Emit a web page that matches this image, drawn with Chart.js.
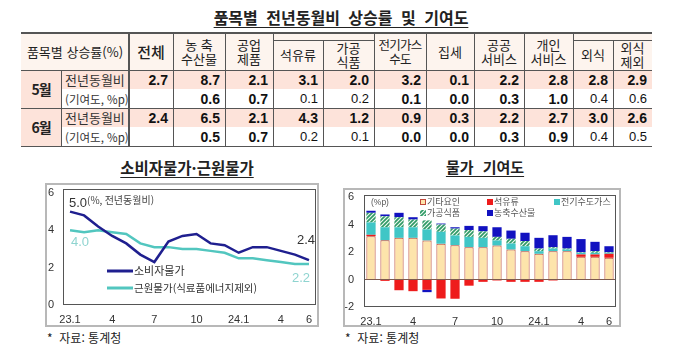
<!DOCTYPE html>
<html lang="ko">
<head>
<meta charset="utf-8">
<script src="https://cdn.jsdelivr.net/npm/chart.js@4.4.1/dist/chart.umd.min.js"></script>
<style>
  body {
    margin: 0;
    width: 682px;
    height: 360px;
    background: #fff;
    position: relative;
    overflow: hidden;
    font-family: 'Noto Sans CJK KR', sans-serif;
    color: #222;
  }

  .abs { position: absolute; }

  .cell {
    position: absolute;
    display: flex;
    align-items: center;
    justify-content: center;
    text-align: center;
    box-sizing: border-box;
    white-space: nowrap;
  }

  .head { font-size: 13px; line-height: 14px; color: #222; }

  .num {
    justify-content: flex-end;
    padding-right: 5px;
    font-family: 'Liberation Sans Narrow', 'Liberation Sans', sans-serif;
    font-size: 14px;
    color: #111;
  }

  .underTitle {
    font-weight: bold;
    text-decoration: underline;
    text-underline-offset: 3px;
    white-space: nowrap;
    transform: translateX(-50%);
  }

  .frame {
    border: 2px solid #b8b8b8;
  }

  .note { font-size: 12px; color: #222; }
</style>
</head>
<body>

<div class="abs underTitle" style="left:341px; top:5px; font-size:16px; word-spacing:4px;">품목별 전년동월비 상승률 및 기여도</div>

<div id="tableBox" class="abs" style="left:0; top:0; width:682px; height:150px;"></div>

<div class="abs underTitle" style="left:187px; top:156px; font-size:15.5px;">소비자물가·근원물가</div>
<div class="abs underTitle" style="left:485px; top:156px; font-size:15px; word-spacing:5px;">물가 기여도</div>

<div class="abs frame" style="left:45px; top:183px; width:270px; height:140px;">
  <canvas id="lineChart" width="270" height="140"></canvas>
</div>

<div class="abs frame" style="left:343px; top:188px; width:274px; height:135px;">
  <canvas id="barChart" width="274" height="135"></canvas>
</div>

<div class="abs note" style="left:47px; top:329px;">*&nbsp; 자료: 통계청</div>
<div class="abs note" style="left:345px; top:329px;">*&nbsp; 자료: 통계청</div>

<script>
// Table data
var itemNames = ['전체', '농 축<br>수산물', '공업<br>제품', '석유류', '가공<br>식품', '전기가스<br>수도', '집세', '공공<br>서비스', '개인<br>서비스', '외식', '외식<br>제외'];

var subItems = [false, false, false, true, true, false, false, false, false, true, true];

var monthNames = ['5월', '6월'];

var mayRate = ['2.7', '8.7', '2.1', '3.1', '2.0', '3.2', '0.1', '2.2', '2.8', '2.8', '2.9'];
var mayContrib = ['', '0.6', '0.7', '0.1', '0.2', '0.1', '0.0', '0.3', '1.0', '0.4', '0.6'];

var junRate = ['2.4', '6.5', '2.1', '4.3', '1.2', '0.9', '0.3', '2.2', '2.7', '3.0', '2.6'];
var junContrib = ['', '0.5', '0.7', '0.2', '0.1', '0.0', '0.0', '0.3', '0.9', '0.4', '0.5'];

// Line chart data (%, 전년동월비)
var monthTicks = ['23.1', '', '', '4', '', '', '7', '', '', '10', '', '', '24.1', '', '', '4', '', '6'];

var cpiValues = [5.0, 4.8, 4.2, 3.7, 3.3, 2.7, 2.3, 3.4, 3.7, 3.8, 3.3, 3.2, 2.8, 3.1, 3.1, 2.9, 2.7, 2.4];
var coreValues = [4.0, 3.9, 4.0, 3.9, 3.8, 3.3, 3.1, 3.1, 3.0, 3.0, 2.9, 2.8, 2.5, 2.5, 2.4, 2.3, 2.2, 2.2];

var lineNames = ['소비자물가', '근원물가(식료품에너지제외)'];

// Bar chart data (%p)
var otherValues = [3.15, 2.85, 3.03, 3.03, 2.84, 2.6, 2.5, 2.35, 2.35, 2.47, 2.18, 2.06, 1.87, 2.06, 2.06, 1.65, 1.65, 1.58];
var oilValues = [0.1, -0.1, -0.78, -0.85, -0.75, -1.38, -1.4, -0.45, -0.17, -0.07, -0.17, -0.17, -0.17, -0.07, 0.0, 0.17, 0.17, 0.29];
var utilValues = [0.9, 0.95, 0.77, 0.77, 0.8, 0.87, 0.7, 0.75, 0.68, 0.37, 0.44, 0.36, 0.19, 0.19, 0.12, 0.12, 0.12, 0.07];
var procValues = [0.7, 0.8, 0.73, 0.56, 0.66, 0.53, 0.5, 0.5, 0.47, 0.26, 0.34, 0.38, 0.19, 0.1, 0.07, 0.04, 0.12, 0.04];
var agriValues = [0.15, 0.13, 0.32, 0.17, -0.17, 0.07, 0.1, 0.3, 0.38, 0.7, 0.6, 0.6, 0.78, 0.87, 0.85, 0.96, 0.68, 0.44];

var barNames = ['기타요인', '석유류', '전기수도가스', '가공식품', '농축수산물'];

// ---------- table ----------
var tableBox = document.getElementById('tableBox');

var colX = [21, 61, 129, 173, 225, 273, 323, 374, 426, 474, 524, 573, 613, 652];

var rowY = [33, 70, 89, 108, 127, 146];

function addBox(left, top, width, height, cls, html, extra)
{
  var d = document.createElement('div');

  d.className = cls;

  d.style.left = left + 'px';
  d.style.top = top + 'px';
  d.style.width = width + 'px';
  d.style.height = height + 'px';

  if (extra)
  {
    for (var k in extra) d.style[k] = extra[k];
  }

  d.innerHTML = html || '';

  tableBox.appendChild(d);

  return d;
}

function buildTable()
{
  // backgrounds
  addBox(colX[0], rowY[0], colX[13] - colX[0], rowY[1] - rowY[0], 'cell', '', { background: '#fdf4ee' });
  addBox(colX[0], rowY[1], colX[1] - colX[0], rowY[5] - rowY[1], 'cell', '', { background: '#fde3da' });
  addBox(colX[1], rowY[1], colX[13] - colX[1], rowY[2] - rowY[1], 'cell', '', { background: '#fde3da' });
  addBox(colX[1], rowY[3], colX[13] - colX[1], rowY[4] - rowY[3], 'cell', '', { background: '#fde3da' });

  // header cells
  addBox(colX[0], rowY[0], colX[2] - colX[0], rowY[1] - rowY[0], 'cell head', '품목별 상승률(%)', { fontSize: '13px' });

  for (var i = 0; i < itemNames.length; i++)
  {
    var cellTop = subItems[i] ? 40 : rowY[0];

    var extra = {};

    if (i === 0) extra = { fontSize: '15px', fontWeight: '500' };

    if (i === 5) extra = { fontSize: '12.5px', letterSpacing: '-0.8px' };

    addBox(colX[i + 2], cellTop, colX[i + 3] - colX[i + 2], rowY[1] - cellTop, 'cell head', itemNames[i], extra);
  }

  // month and row labels
  var rateRows = [mayRate, junRate];
  var contribRows = [mayContrib, junContrib];

  for (var m = 0; m < 2; m++)
  {
    var y0 = rowY[1 + m * 2];
    var y1 = rowY[2 + m * 2];
    var y2 = rowY[3 + m * 2];

    addBox(colX[0], y0, colX[1] - colX[0], y2 - y0, 'cell', monthNames[m], { fontWeight: 'bold', fontSize: '14px', letterSpacing: '-1px' });

    addBox(colX[1], y0, colX[2] - colX[1], y1 - y0, 'cell', '전년동월비', { justifyContent: 'flex-start', paddingLeft: '4px', fontSize: '13px', color: '#333' });

    addBox(colX[1], y1, colX[2] - colX[1], y2 - y1, 'cell', '(기여도, %p)', { justifyContent: 'flex-start', paddingLeft: '4px', fontSize: '11.5px', color: '#333' });

    for (var c = 0; c < itemNames.length; c++)
    {
      var cx = colX[c + 2];
      var cw = colX[c + 3] - cx;

      addBox(cx, y0, cw, y1 - y0, 'cell num', rateRows[m][c], { fontWeight: 'bold' });

      addBox(cx, y1, cw, y2 - y1, 'cell num', contribRows[m][c], { fontWeight: subItems[c] ? 'normal' : 'bold', fontSize: subItems[c] ? '13px' : '14px' });
    }
  }

  // lines
  var lineColor = '#555';

  addBox(colX[0], rowY[0] - 1, colX[13] - colX[0], 2, 'cell', '', { background: lineColor });
  addBox(colX[0], rowY[1], colX[13] - colX[0], 1, 'cell', '', { background: lineColor });
  addBox(colX[0], rowY[3], colX[13] - colX[0], 1, 'cell', '', { background: lineColor });
  addBox(colX[0], rowY[5], colX[13] - colX[0], 1, 'cell', '', { background: lineColor });

  addBox(colX[5], 40, colX[7] - colX[5], 1, 'cell', '', { background: lineColor });
  addBox(colX[11], 40, colX[13] - colX[11], 1, 'cell', '', { background: lineColor });

  addBox(colX[1], rowY[1], 1, rowY[5] - rowY[1], 'cell', '', { background: lineColor });
  addBox(colX[2] - 1, rowY[0], 2, rowY[5] - rowY[0], 'cell', '', { background: lineColor });

  for (var j = 3; j <= 12; j++)
  {
    var lineTop = (j === 6 || j === 12) ? 40 : rowY[0];

    addBox(colX[j], lineTop, 1, rowY[5] - lineTop, 'cell', '', { background: lineColor });
  }
}

buildTable();

// ---------- charts ----------
Chart.defaults.font.family = "'Liberation Sans', 'Noto Sans CJK KR', sans-serif";

Chart.defaults.color = '#333';

// keep the plot area where the frame expects it (no label padding)
function fitBox(size)
{
  return function (scale) {
    if (scale.isHorizontal()) scale.height = size;
    else scale.width = size;

    scale.paddingTop = 0;
    scale.paddingBottom = 0;
    scale.paddingLeft = 0;
    scale.paddingRight = 0;
  };
}

// plot frame, drawn a little above the top tick
function makeBoxPlugin(extraTop)
{
  return {
    id: 'areaBox',

    afterDraw: function (chart) {
      var ctx = chart.ctx;
      var a = chart.chartArea;
      var top = Math.round(a.top) - extraTop;

      ctx.save();

      ctx.strokeStyle = '#555';
      ctx.lineWidth = 1;
      ctx.strokeRect(Math.round(a.left) + 0.5, top + 0.5, Math.round(a.width) - 1, Math.round(a.bottom) - top - 1);

      ctx.restore();
    }
  };
}

var lineNavy = '#1f1f8f';
var lineTeal = '#52c6bf';

var lineLabelPlugin = {
  id: 'lineLabels',

  afterDatasetsDraw: function (chart) {
    var ctx = chart.ctx;
    var a = chart.chartArea;
    var xs = chart.scales.x;
    var ys = chart.scales.y;
    var last = cpiValues.length - 1;

    var x0 = xs.getPixelForValue(0);
    var xn = xs.getPixelForValue(last);

    ctx.save();

    ctx.textAlign = 'center';
    ctx.textBaseline = 'middle';

    ctx.font = "13px 'Liberation Sans'";
    ctx.fillStyle = '#333';
    ctx.fillText(cpiValues[0].toFixed(1), x0 + 8, ys.getPixelForValue(cpiValues[0]) - 8);
    ctx.fillText(cpiValues[last].toFixed(1), xn - 3, ys.getPixelForValue(cpiValues[last]) - 20);

    ctx.fillStyle = '#8fd4d0';
    ctx.fillText(coreValues[0].toFixed(1), x0 + 10, ys.getPixelForValue(coreValues[0]) + 12);
    ctx.fillText(coreValues[last].toFixed(1), xn - 8, ys.getPixelForValue(coreValues[last]) + 14);

    ctx.textAlign = 'left';
    ctx.font = "10px 'Noto Sans CJK KR'";
    ctx.fillStyle = '#444';
    ctx.fillText('(%, 전년동월비)', x0 + 17, ys.getPixelForValue(cpiValues[0]) - 11);

    // legend
    var lx = a.left + 44;
    var ly = a.top + 78;

    ctx.lineWidth = 3;

    ctx.strokeStyle = lineNavy;
    ctx.beginPath();
    ctx.moveTo(lx, ly);
    ctx.lineTo(lx + 26, ly);
    ctx.stroke();

    ctx.strokeStyle = lineTeal;
    ctx.beginPath();
    ctx.moveTo(lx, ly + 17);
    ctx.lineTo(lx + 26, ly + 17);
    ctx.stroke();

    ctx.fillStyle = '#333';
    ctx.font = "11px 'Noto Sans CJK KR'";
    ctx.fillText(lineNames[0], lx + 27, ly);
    ctx.font = "10.5px 'Noto Sans CJK KR'";
    ctx.fillText(lineNames[1], lx + 27, ly + 17);

    ctx.restore();
  }
};

new Chart(document.getElementById('lineChart'), {

  type: 'line',

  data: {
    labels: monthTicks,

    datasets: [
      {
        label: lineNames[0],
        data: cpiValues,
        borderColor: lineNavy,
        borderWidth: 2.5,
        pointRadius: 0,
        tension: 0
      },
      {
        label: lineNames[1],
        data: coreValues,
        borderColor: lineTeal,
        borderWidth: 2.5,
        pointRadius: 0,
        tension: 0
      }
    ]
  },

  options: {
    responsive: false,
    animation: false,
    layout: { padding: { top: 8, right: 1, left: 0, bottom: 0 } },
    plugins: {
      legend: { display: false },
      tooltip: { enabled: false }
    },
    scales: {
      x: {
        offset: true,
        grid: { display: false, drawTicks: false },
        border: { display: false },
        ticks: { autoSkip: false, maxRotation: 0, padding: 8, font: { size: 11 } },
        afterFit: fitBox(20)
      },
      y: {
        min: 0,
        max: 6,
        grid: { display: false, drawTicks: false },
        border: { display: false },
        ticks: { stepSize: 2, padding: 9, font: { size: 11 } },
        afterFit: fitBox(16)
      }
    }
  },

  plugins: [makeBoxPlugin(4), lineLabelPlugin]
});

// hatched fill for 가공식품
function makeHatch()
{
  var c = document.createElement('canvas');

  c.width = 4;
  c.height = 4;

  var g = c.getContext('2d');

  g.fillStyle = '#2f9a66';
  g.fillRect(0, 0, 4, 4);

  g.strokeStyle = '#eef8f0';
  g.lineWidth = 1.2;
  g.beginPath();
  g.moveTo(-1, 5);
  g.lineTo(5, -1);
  g.moveTo(-1, 1);
  g.lineTo(1, -1);
  g.moveTo(3, 5);
  g.lineTo(5, 3);
  g.stroke();

  return g.createPattern(c, 'repeat');
}

var hatch = makeHatch();

var barFills = ['#fde4ab', '#ee1c1c', '#40c6c6', hatch, '#1212c0'];

var barLegendPlugin = {
  id: 'barLegend',

  afterDraw: function (chart) {
    var ctx = chart.ctx;
    var a = chart.chartArea;

    ctx.save();

    ctx.textBaseline = 'middle';
    ctx.textAlign = 'left';

    ctx.font = "8.5px 'Liberation Sans'";
    ctx.fillStyle = '#555';
    ctx.fillText('(%p)', a.left + 7, a.top + 6);

    var slots = [[59, 5], [126, 5], [193, 5], [59, 16], [126, 16]];

    ctx.font = "9px 'Noto Sans CJK KR'";

    for (var i = 0; i < barNames.length; i++)
    {
      var mx = a.left + slots[i][0];
      var my = a.top + slots[i][1];

      ctx.fillStyle = barFills[i];
      ctx.fillRect(mx - 3, my - 3, 6, 6);

      if (i === 0)
      {
        ctx.strokeStyle = '#c0483a';
        ctx.lineWidth = 1;
        ctx.strokeRect(mx - 2.5, my - 2.5, 5, 5);
      }

      ctx.fillStyle = '#555';
      ctx.fillText(barNames[i], mx + 4, my);
    }

    ctx.restore();
  }
};

new Chart(document.getElementById('barChart'), {

  type: 'bar',

  data: {
    labels: monthTicks,

    datasets: [
      {
        label: barNames[0],
        data: otherValues,
        backgroundColor: barFills[0],
        borderColor: '#b8432f',
        borderWidth: 1
      },
      {
        label: barNames[1],
        data: oilValues,
        backgroundColor: barFills[1],
        borderWidth: 0
      },
      {
        label: barNames[2],
        data: utilValues,
        backgroundColor: barFills[2],
        borderWidth: 0
      },
      {
        label: barNames[3],
        data: procValues,
        backgroundColor: barFills[3],
        borderWidth: 0
      },
      {
        label: barNames[4],
        data: agriValues,
        backgroundColor: barFills[4],
        borderWidth: 0
      }
    ]
  },

  options: {
    responsive: false,
    animation: false,
    datasets: {
      bar: { categoryPercentage: 1, barPercentage: 0.66 }
    },
    layout: { padding: { top: 7, right: 3, left: 0, bottom: 0 } },
    plugins: {
      legend: { display: false },
      tooltip: { enabled: false }
    },
    scales: {
      x: {
        stacked: true,
        grid: { display: false, drawTicks: false },
        border: { display: false },
        ticks: { autoSkip: false, maxRotation: 0, padding: 8, font: { size: 11 } },
        afterFit: fitBox(18)
      },
      y: {
        stacked: true,
        min: -2,
        max: 6,
        border: { display: false },
        grid: {
          drawTicks: false,
          color: function (context) {
            return context.tick && context.tick.value === 0 ? '#7d5a4e' : 'rgba(0,0,0,0)';
          }
        },
        ticks: { stepSize: 2, padding: 10, font: { size: 11 } },
        afterFit: fitBox(19)
      }
    }
  },

  plugins: [makeBoxPlugin(2), barLegendPlugin]
});
</script>
</body>
</html>
